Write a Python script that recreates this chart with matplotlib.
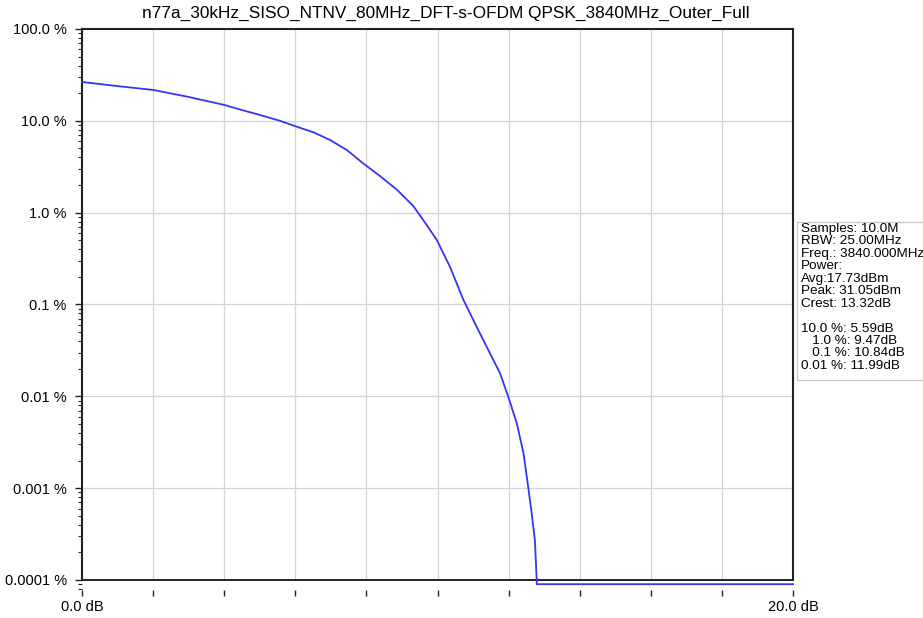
import numpy as np
import matplotlib
matplotlib.use('Agg')
import matplotlib.pyplot as plt
from matplotlib.patches import Rectangle
from matplotlib.ticker import LogLocator, NullFormatter

plt.rcParams['font.family'] = ['Liberation Sans', 'DejaVu Sans']

# CCDF curve (power above average in dB, probability in %)
power_db = [0.0, 1.0, 2.0, 3.0, 4.0, 4.5, 5.0, 5.57, 6.04, 6.51, 6.98, 7.45, 7.91,
            8.38, 8.85, 9.32, 9.70, 9.98, 10.35, 10.73, 11.10, 11.43, 11.76, 11.99,
            12.23, 12.42, 12.55, 12.65, 12.74, 12.79, 12.79, 20.0]
ccdf_pct = [26.5, 23.9, 21.7, 18.2, 14.9, 13.1, 11.6, 10.0, 8.63, 7.50, 6.18, 4.81, 3.44,
            2.51, 1.79, 1.18, 0.73, 0.504, 0.258, 0.112, 0.0573, 0.0319, 0.0178, 0.0099,
            0.0051, 0.00239, 0.00104, 0.00053, 0.00027, 0.0001, 0.00009, 0.00009]

x_ticks = [0, 2, 4, 6, 8, 10, 12, 14, 16, 18, 20]
x_tick_labels = ['0.0 dB', '', '', '', '', '', '', '', '', '', '20.0 dB']
y_ticks = [1e-4, 1e-3, 1e-2, 1e-1, 1, 10, 100]
y_tick_labels = ['0.0001 %', '0.001 %', '0.01 %', '0.1 %', '1.0 %', '10.0 %', '100.0 %']

title = 'n77a_30kHz_SISO_NTNV_80MHz_DFT-s-OFDM QPSK_3840MHz_Outer_Full'
info_lines = ['Samples: 10.0M', 'RBW: 25.00MHz', 'Freq.: 3840.000MHz', 'Power:',
              'Avg:17.73dBm', 'Peak: 31.05dBm', 'Crest: 13.32dB', '',
              '10.0 %: 5.59dB', '   1.0 %: 9.47dB', '   0.1 %: 10.84dB', '0.01 %: 11.99dB']

fig = plt.figure(figsize=(9.23, 6.18), dpi=100)
ax = fig.add_axes([82/923, 1 - 590/618, (793 - 82)/923, (590 - 29)/618])

ax.set_yscale('log')
ax.set_xlim(0, 20)
ax.set_ylim(7.78e-5, 100)

# grid
for xv in x_ticks[1:-1]:
    ax.plot([xv, xv], [1e-4, 100], color='#d4d4d4', lw=0.9, zorder=1)
for yv in y_ticks[1:-1]:
    ax.axhline(yv, color='#d4d4d4', lw=0.9, zorder=1)
ax.plot([0, 20], [1e-4, 1e-4], color='#222222', lw=1.4, zorder=3)

ax.plot(power_db, ccdf_pct, color='#3535f5', lw=1.3, zorder=4, clip_on=False)

ax.set_xticks(x_ticks)
ax.set_xticklabels(x_tick_labels, fontsize=10.5)
ax.set_yticks(y_ticks)
ax.set_yticklabels(y_tick_labels, fontsize=10.5)
ax.yaxis.set_minor_locator(LogLocator(base=10, subs=np.arange(2, 10), numticks=20))
ax.yaxis.set_minor_formatter(NullFormatter())
ax.tick_params(axis='y', which='major', direction='out', length=5, width=1.0, color='#222222', pad=6)
ax.tick_params(axis='y', which='minor', direction='out', length=3, width=0.8, color='#222222')
ax.tick_params(axis='x', which='major', direction='out', length=4, width=1.0, color='#222222', pad=3)

ax.spines['bottom'].set_visible(False)
for s in ['top', 'left', 'right']:
    ax.spines[s].set_linewidth(1.5)
    ax.spines[s].set_color('#222222')
ax.spines['right'].set_bounds(1e-4, 100)
ax.spines['left'].set_bounds(1e-4, 100)

fig.text(446/923, 1 - 13/618, title, ha='center', va='center', fontsize=12.4)

# info panel at the right edge
fig.patches.append(Rectangle((797/923, 1 - 380/618), 0.2, (380 - 222)/618,
                             transform=fig.transFigure, facecolor='white',
                             edgecolor='#c8c8c8', lw=1.0))
fig.text(801/923, 1 - 223/618, '\n'.join(info_lines), ha='left', va='top',
         fontsize=9.7, linespacing=1.05)

fig.savefig('out.png', dpi=100)
